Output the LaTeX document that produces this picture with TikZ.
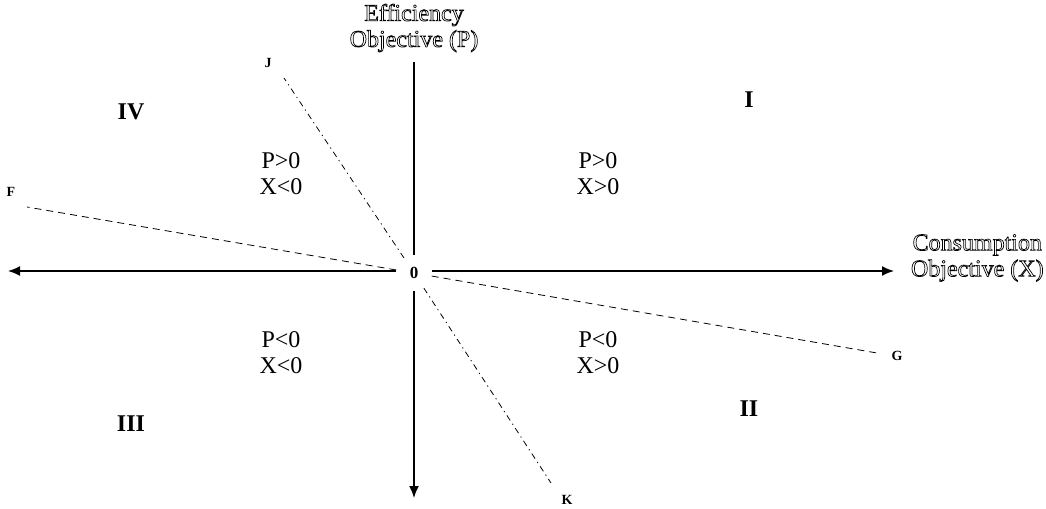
\documentclass[tikz,border=0pt]{standalone}
\usepackage{fontspec}
\setmainfont{Liberation Serif}
\usetikzlibrary{arrows.meta}
\newcommand{\hollow}[1]{\special{pdf:literal 1 Tr 0.35 w}#1\special{pdf:literal 0 Tr}}
\begin{document}
\begin{tikzpicture}[x=0.5pt,y=-0.5pt,
  every node/.style={inner sep=0pt, outer sep=0pt},
  quad/.style={font=\fontsize{12}{13}\selectfont, align=center},
  region/.style={font=\fontsize{12}{13}\selectfont\bfseries},
  tag/.style={font=\fontsize{7}{8}\selectfont\bfseries},
  axis/.style={thick},
  tip/.style={-{Latex[length=6pt,width=5pt]}},
  dashline/.style={dash pattern=on 3.5pt off 2.5pt},
  dotline/.style={dash pattern=on 3pt off 2pt on 0.6pt off 2pt}]
\useasboundingbox (0,0) rectangle (1046,509);
% origin and axis ends
\node[circle, minimum size=18pt, font=\fontsize{8.5}{9}\selectfont\bfseries] (o) at (414,273) {0};
\coordinate (ptop) at (414,62);
\coordinate (pbot) at (414,498);
\coordinate (xleft) at (8,271);
\coordinate (xright) at (894,271);
\draw[axis] (ptop) -- (o);
\draw[axis,tip] (o) -- (pbot);
\draw[axis,tip] (o.west |- xleft) -- (xleft);
\draw[axis,tip] (o.east |- xright) -- (xright);
% axis labels
\node[quad] (plabel) at (414,28) {\hollow{Efficiency}\\\hollow{Objective (P)}};
\node[quad, anchor=west] (xlabel) at (911,258) {\hollow{Consumption}\\\hollow{Objective (X)}};
% boundary lines
\coordinate (fend) at (27,207);
\coordinate (gend) at (877,353);
\coordinate (jend) at (284,78);
\coordinate (kend) at (551,483);
\draw[dashline] (o) -- (fend);
\draw[dashline] (o) -- (gend);
\draw[dotline] (o) -- (jend);
\draw[dotline] (o) -- (kend);
\node[tag] (f) at (11,192) {F};
\node[tag] (g) at (897,356) {G};
\node[tag] (j) at (268,63) {J};
\node[tag] (k) at (567,500) {K};
% quadrants
\node[region] (q1) at (749,100) {I};
\node[region] (q2) at (749,409) {II};
\node[region] (q3) at (131,424) {III};
\node[region] (q4) at (131,112) {IV};
\node[quad] (s4) at (281,174) {P>0\\X<0};
\node[quad] (s1) at (598,174) {P>0\\X>0};
\node[quad] (s3) at (281,353) {P<0\\X<0};
\node[quad] (s2) at (598,353) {P<0\\X>0};
\end{tikzpicture}
\end{document}
